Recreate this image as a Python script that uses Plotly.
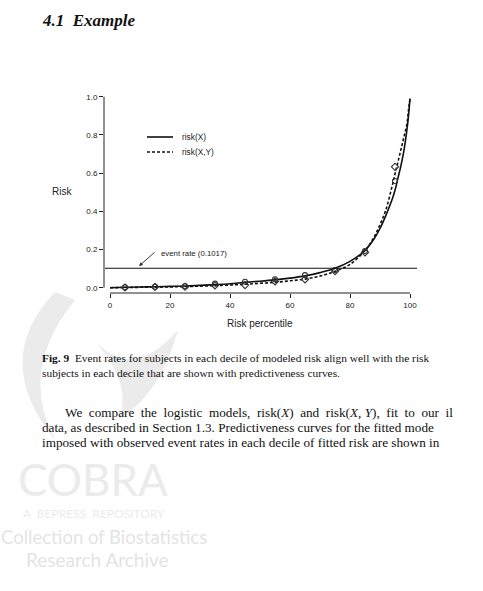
import plotly.graph_objects as go

# ---- data ----
pct = [0, 5, 10, 15, 20, 25, 30, 35, 40, 45, 50, 55, 60, 65, 70, 75, 80, 85,
       88, 90, 92, 94, 95, 96, 97, 98, 99, 99.5, 100]
risk_x = [0.000, 0.002, 0.004, 0.005, 0.007, 0.009, 0.012, 0.016, 0.021, 0.028,
          0.034, 0.041, 0.050, 0.062, 0.079, 0.102, 0.138, 0.195,
          0.255, 0.31, 0.38, 0.46, 0.51, 0.575, 0.64, 0.72, 0.83, 0.90, 0.99]
risk_xy = [0.000, 0.001, 0.002, 0.003, 0.004, 0.006, 0.008, 0.011, 0.014, 0.018,
           0.023, 0.028, 0.036, 0.045, 0.061, 0.086, 0.122, 0.195,
           0.265, 0.33, 0.41, 0.53, 0.595, 0.66, 0.725, 0.79, 0.86, 0.93, 0.99]

deciles = [5, 15, 25, 35, 45, 55, 65, 75, 85, 95]
obs_x = [0.002, 0.005, 0.009, 0.022, 0.031, 0.044, 0.066, 0.093, 0.192, 0.559]
obs_xy = [0.001, 0.004, 0.005, 0.012, 0.014, 0.033, 0.044, 0.087, 0.185, 0.633]

event_rate = 0.1017
x_ticks = [0, 20, 40, 60, 80, 100]
y_ticks = [0.0, 0.2, 0.4, 0.6, 0.8, 1.0]

# ---- layout geometry (pixels) ----
W, H = 483, 591
L, R, T, B = 104, 417, 89, 293


def xp(px):
    return (px - L) / (R - L)


def yp(py):
    return (B - py) / (B - T)


SANS = "Liberation Sans, Arial, sans-serif"
SERIF = "Liberation Serif, Times New Roman, serif"
INK = "#222222"

fig = go.Figure()

fig.add_trace(go.Scatter(x=pct, y=risk_x, mode="lines", line=dict(color="#111111", width=1.6),
                         line_shape="spline", showlegend=False, hoverinfo="skip"))
fig.add_trace(go.Scatter(x=pct, y=risk_xy, mode="lines",
                         line=dict(color="#111111", width=1.6, dash="3px,2px"),
                         line_shape="spline", showlegend=False, hoverinfo="skip"))
fig.add_trace(go.Scatter(x=deciles, y=obs_x, mode="markers",
                         marker=dict(symbol="circle-open", size=5, color="#333333", line=dict(width=1.1)),
                         showlegend=False, hoverinfo="skip"))
fig.add_trace(go.Scatter(x=deciles, y=obs_xy, mode="markers",
                         marker=dict(symbol="diamond-open", size=5.5, color="#333333", line=dict(width=1.1)),
                         showlegend=False, hoverinfo="skip"))

shapes = []
# watermark (light grey swirl)
wm = "#ebebeb"


def path(pts):
    s = ""
    for cmd, coords in pts:
        s += cmd + " " + " ".join(f"{xp(a):.4f},{yp(b):.4f}" for a, b in coords) + " "
    return s + "Z"


shapes.append(dict(type="path", xref="paper", yref="paper", layer="below", line=dict(width=0),
                   fillcolor=wm,
                   path=path([("M", [(55, 292)]), ("Q", [(-10, 360), (55, 440)]),
                              ("Q", [(18, 370), (75, 300)])])))
shapes.append(dict(type="path", xref="paper", yref="paper", layer="below", line=dict(width=0),
                   fillcolor=wm,
                   path=path([("M", [(90, 335)]), ("Q", [(130, 385), (178, 330)]),
                              ("Q", [(160, 395), (118, 420)]), ("Q", [(135, 385), (90, 335)])])))

# axis lines (R style, spanning only the tick range)
shapes.append(dict(type="line", xref="paper", yref="y", x0=0, x1=0, y0=0, y1=1,
                   line=dict(color=INK, width=1)))
shapes.append(dict(type="line", xref="x", yref="paper", x0=0, x1=100, y0=0, y1=0,
                   line=dict(color=INK, width=1)))
# event rate line
shapes.append(dict(type="line", xref="paper", yref="y", x0=0.003, x1=1, y0=event_rate, y1=event_rate,
                   line=dict(color="#111111", width=1.1)))
# legend samples
shapes.append(dict(type="line", xref="paper", yref="paper", x0=xp(147), x1=xp(173), y0=yp(137), y1=yp(137),
                   line=dict(color="#111111", width=1.6)))
shapes.append(dict(type="line", xref="paper", yref="paper", x0=xp(147), x1=xp(173), y0=yp(152), y1=yp(152),
                   line=dict(color="#111111", width=1.6, dash="3px,2px")))

ann = []
# watermark text
WMF = "Lato, " + SANS
ann.append(dict(text="COBRA", x=xp(93), y=yp(479), xanchor="center", font=dict(family=WMF, size=44, color=wm)))
ann.append(dict(text="A  BEPRESS  REPOSITORY", x=xp(94), y=yp(513), xanchor="center",
                font=dict(family=WMF, size=12, color=wm)))
ann.append(dict(text="Collection of Biostatistics", x=xp(104), y=yp(537), xanchor="center",
                font=dict(family=WMF, size=18.5, color="#e4e4e4")))
ann.append(dict(text="Research Archive", x=xp(97), y=yp(559), xanchor="center",
                font=dict(family=WMF, size=19, color="#e4e4e4")))

# page texts
ann.append(dict(text="<b><i>4.1  Example</i></b>", x=xp(40), y=yp(20), xanchor="left",
                font=dict(family=SERIF, size=17, color="#111111")))
ann.append(dict(text="<b>Fig. 9</b>  Event rates for subjects in each decile of modeled risk align well with the risk",
                x=xp(40), y=yp(358), xanchor="left", font=dict(family=SERIF, size=11.4, color="#111111")))
ann.append(dict(text="subjects in each decile that are shown with predictiveness curves.",
                x=xp(40), y=yp(373), xanchor="left", font=dict(family=SERIF, size=11.4, color="#111111")))
ann.append(dict(text="We  compare  the  logistic  models,  risk(<i>X</i>)  and  risk(<i>X</i>, <i>Y</i>),  fit  to  our  il",
                x=xp(63), y=yp(412), xanchor="left", font=dict(family=SERIF, size=13.2, color="#111111")))
ann.append(dict(text="data, as described in Section 1.3. Predictiveness curves for the fitted mode",
                x=xp(40), y=yp(427), xanchor="left", font=dict(family=SERIF, size=13.2, color="#111111")))
ann.append(dict(text="imposed with observed event rates in each decile of fitted risk are shown in",
                x=xp(40), y=yp(442), xanchor="left", font=dict(family=SERIF, size=13.2, color="#111111")))

# chart texts
ann.append(dict(text="risk(X)", x=xp(180), y=yp(137), xanchor="left", font=dict(family=SANS, size=8.3, color=INK)))
ann.append(dict(text="risk(X,Y)", x=xp(180), y=yp(152), xanchor="left", font=dict(family=SANS, size=8.3, color=INK)))
ann.append(dict(text="event rate (0.1017)", x=xp(159), y=yp(253), xanchor="left", font=dict(family=SANS, size=7.8, color=INK)))
ann.append(dict(text="Risk", x=xp(62), y=yp(191), xanchor="center", font=dict(family=SANS, size=10, color=INK)))
ann.append(dict(text="Risk percentile", x=xp(260), y=yp(323), xanchor="center", font=dict(family=SANS, size=10, color=INK)))

for a in ann:
    a.setdefault("xref", "paper")
    a.setdefault("yref", "paper")
    a.setdefault("showarrow", False)
    a.setdefault("yanchor", "middle")

# arrow pointing to the event-rate line
ann.append(dict(x=9.7, y=event_rate + 0.012, xref="x", yref="y", ax=17, ay=-15, text="",
                showarrow=True, arrowhead=2, arrowsize=0.8, arrowwidth=0.9, arrowcolor=INK))

fig.update_layout(
    width=W, height=H, autosize=False,
    margin=dict(l=L, r=W - R, t=T, b=H - B, pad=0),
    paper_bgcolor="white", plot_bgcolor="white",
    shapes=shapes, annotations=ann, showlegend=False,
    xaxis=dict(range=[(L - 110) / 3, (R - 110) / 3], tickvals=x_ticks, ticks="outside", ticklen=4,
               tickwidth=1, tickcolor=INK, showgrid=False, zeroline=False, showline=False,
               tickfont=dict(family=SANS, size=8, color=INK), fixedrange=True),
    yaxis=dict(range=[(287.7 - B) / 191, (287.7 - T) / 191], tickvals=y_ticks, tickformat=".1f",
               ticks="outside", ticklen=4, tickwidth=1, tickcolor=INK, showgrid=False,
               zeroline=False, showline=False, tickfont=dict(family=SANS, size=8, color=INK),
               fixedrange=True),
)

fig.write_html("out.html")
